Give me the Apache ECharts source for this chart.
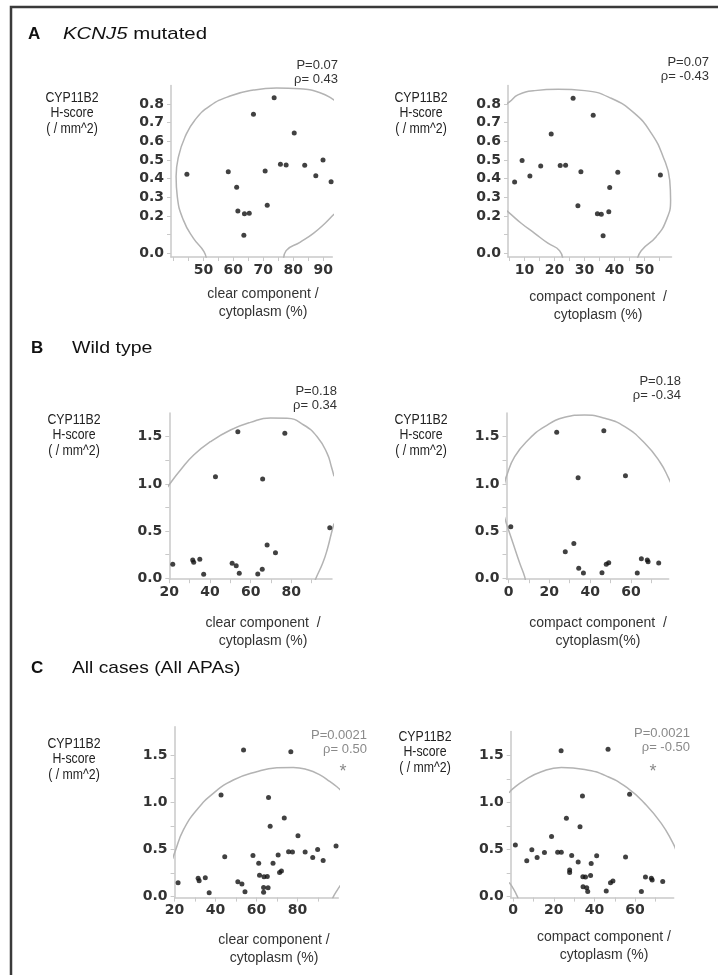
<!DOCTYPE html>
<html><head><meta charset="utf-8">
<script src="https://cdn.jsdelivr.net/npm/echarts@6/dist/echarts.min.js"></script>
<style>html,body{margin:0;padding:0;background:#fff}#c{width:718px;height:975px}</style>
</head><body><div id="c"></div>
<script>
// ---------- DATA ----------
// A: KCNJ5 mutated (n=18)
const aClearX   = [44.5, 58.3, 61.1, 61.5, 63.7, 65.3, 63.5, 66.7, 70.6, 71.3, 73.6, 75.7, 77.6, 80.3, 83.8, 87.5, 89.9, 92.6];
const aClearY   = [0.423, 0.437, 0.354, 0.227, 0.212, 0.214, 0.096, 0.745, 0.441, 0.257, 0.834, 0.477, 0.473, 0.645, 0.472, 0.416, 0.500, 0.384];
const aCompactX = [6.7, 9.2, 11.8, 15.4, 18.9, 21.9, 23.7, 26.2, 28.8, 27.8, 32.9, 34.3, 35.6, 36.2, 38.1, 38.4, 41.1, 55.3];
const aCompactY = [0.382, 0.498, 0.414, 0.468, 0.639, 0.470, 0.472, 0.831, 0.437, 0.255, 0.740, 0.212, 0.209, 0.094, 0.223, 0.352, 0.434, 0.420];
// B: Wild type (n=17)
const bClearX   = [21.7, 31.5, 32.0, 35.0, 36.9, 42.7, 50.9, 52.9, 53.7, 54.4, 63.5, 65.7, 65.9, 68.1, 72.2, 76.8, 98.9];
const bClearY   = [0.148, 0.194, 0.169, 0.201, 0.042, 1.076, 0.159, 0.133, 1.553, 0.053, 0.046, 0.095, 1.052, 0.353, 0.271, 1.536, 0.536];
const bCompactX = [1.1, 23.6, 27.8, 32.0, 34.1, 34.4, 36.7, 45.8, 46.7, 47.9, 49.1, 57.3, 63.1, 65.1, 68.0, 68.4, 73.6];
const bCompactY = [0.547, 1.547, 0.282, 0.367, 1.066, 0.106, 0.056, 0.059, 1.564, 0.148, 0.165, 1.087, 0.056, 0.208, 0.194, 0.176, 0.162];
// C: all cases = A + B
const cClearX   = aClearX.concat(bClearX);
const cClearY   = aClearY.concat(bClearY);
const cCompactX = aCompactX.concat(bCompactX);
const cCompactY = aCompactY.concat(bCompactY);

// density-ellipse arcs, points [x, y]
const aClearArc1   = [[51.1,-0.04],[50.2,0.009],[46.7,0.08],[43.3,0.179],[41.3,0.304],[40.9,0.411],[41.7,0.518],[43.9,0.625],[47.2,0.715],[52.2,0.79],[58.9,0.843],[66.7,0.875],[74.4,0.886],[82.2,0.882],[88.9,0.861],[93.1,0.827],[95,0.80]];
const aClearArc2   = [[76.7,-0.04],[77.6,0.014],[82.2,0.059],[86.7,0.107],[90.6,0.161],[93.3,0.205],[94.5,0.225]];
const aCompactArc1 = [[3.4,0.795],[5.1,0.813],[7.8,0.849],[13.4,0.872],[21.2,0.879],[30.1,0.872],[38.9,0.831],[46.7,0.75],[52.3,0.643],[56.2,0.518],[58.4,0.393],[58.7,0.286],[57.3,0.179],[53.9,0.089],[48.9,0.014],[47.5,-0.04]];
const aCompactArc2 = [[3.4,0.236],[5.1,0.214],[8.9,0.161],[13.4,0.107],[17.8,0.054],[21.7,0.014],[22.8,-0.04]];
const bClearArc1   = [[18,0.93],[20.2,0.999],[25.5,1.147],[32,1.306],[40.2,1.447],[50.1,1.571],[59.9,1.652],[69.7,1.698],[77.9,1.695],[86.1,1.624],[92.7,1.5],[97.6,1.324],[99.7,1.182],[101,1.08]];
const bClearArc2   = [[91.5,-0.04],[92.1,0],[95.4,0.159],[97.6,0.3],[99.7,0.477],[101,0.58]];
const bCompactArc1 = [[-2,1.0],[-1.1,1.077],[3,1.288],[9.6,1.465],[17.7,1.606],[27.5,1.705],[37.3,1.73],[47.2,1.695],[57,1.606],[66.8,1.43],[74.1,1.235],[78.5,1.059],[80,0.98]];
const bCompactArc2 = [[-2,0.65],[-1.1,0.583],[2.2,0.371],[5.5,0.159],[7.9,0.017],[8.3,-0.04]];
const cClearArc1   = [[19,0.4],[20.2,0.477],[24.3,0.707],[30.8,0.918],[38.9,1.095],[48.7,1.236],[60.1,1.324],[70,1.365],[78,1.37],[85,1.345],[91,1.29],[96,1.218],[99.3,1.165],[101,1.13]];
const cClearArc2   = [[97,-0.04],[97.6,0],[99.5,0.07],[101,0.12]];
const cCompactArc1 = [[-2,1.1],[-0.5,1.137],[5.7,1.236],[13.9,1.324],[23.7,1.37],[35.2,1.349],[46.7,1.271],[56.5,1.148],[64.7,0.989],[72.9,0.777],[78.7,0.565],[80,0.5]];
const cCompactArc2 = [[-2,0.15],[-0.5,0.106],[2.1,0],[2.5,-0.04]];

// tick labels
const aYLabels = [0, 0.2, 0.3, 0.4, 0.5, 0.6, 0.7, 0.8];
const aYTicks  = [0, 0.1, 0.2, 0.3, 0.4, 0.5, 0.6, 0.7, 0.8];
const aClearXLabels = [50, 60, 70, 80, 90];
const aClearXTicks  = [40, 45, 50, 55, 60, 65, 70, 75, 80, 85, 90];
const aCompXLabels  = [10, 20, 30, 40, 50];
const aCompXTicks   = [5, 10, 15, 20, 25, 30, 35, 40, 45, 50, 55];
const bcYLabels = [0, 0.5, 1.0, 1.5];
const bcYTicks  = [0, 0.25, 0.5, 0.75, 1.0, 1.25, 1.5];
const clearXLabels = [20, 40, 60, 80];
const clearXTicks  = [20, 30, 40, 50, 60, 70, 80, 90];
const compXLabels  = [0, 20, 40, 60];
const compXTicks   = [0, 10, 20, 30, 40, 50, 60, 70];

// ---------- LAYOUT ----------
const panels = [
  {grid:{left:171, top:85.4, width:161.3, height:171.6}, x:[39.2,93], y:[-0.02,0.9], xl:aClearXLabels, xt:aClearXTicks, yl:aYLabels, yt:aYTicks, pts:[aClearX,aClearY], arcs:[aClearArc1,aClearArc2]},
  {grid:{left:508, top:85.4, width:163.5, height:171.6}, x:[4.5,59], y:[-0.02,0.9], xl:aCompXLabels, xt:aCompXTicks, yl:aYLabels, yt:aYTicks, pts:[aCompactX,aCompactY], arcs:[aCompactArc1,aCompactArc2]},
  {grid:{left:169.3, top:413.1, width:162.7, height:166.1}, x:[20,100], y:[-0.01,1.75], xl:clearXLabels, xt:clearXTicks, yl:bcYLabels, yt:bcYTicks, pts:[bClearX,bClearY], arcs:[bClearArc1,bClearArc2]},
  {grid:{left:506.5, top:413.1, width:162.2, height:166.1}, x:[-1,78.5], y:[-0.01,1.75], xl:compXLabels, xt:compXTicks, yl:bcYLabels, yt:bcYTicks, pts:[bCompactX,bCompactY], arcs:[bCompactArc1,bCompactArc2]},
  {grid:{left:174.6, top:726.8, width:163.7, height:170.8}, x:[20,100], y:[-0.01,1.8], xl:clearXLabels, xt:clearXTicks, yl:bcYLabels, yt:bcYTicks, pts:[cClearX,cClearY], arcs:[cClearArc1,cClearArc2]},
  {grid:{left:510.7, top:731.6, width:163, height:166}, x:[-1.2,79], y:[-0.01,1.75], xl:compXLabels, xt:compXTicks, yl:bcYLabels, yt:bcYTicks, pts:[cCompactX,cCompactY], arcs:[cCompactArc1,cCompactArc2]}
];

const axisColor = '#c9c9c9';
const grids = [], xAxes = [], yAxes = [], series = [];
panels.forEach((p, i) => {
  grids.push(Object.assign({containLabel:false}, p.grid));
  const common = {
    type:'value', gridIndex:i, splitLine:{show:false},
    axisLine:{show:true, onZero:false, lineStyle:{color:axisColor, width:1.5}},
    axisTick:{show:true, length:4, lineStyle:{color:axisColor, width:1}},
  };
  xAxes.push(Object.assign({}, common, {
    min:p.x[0], max:p.x[1],
    axisTick:Object.assign({}, common.axisTick, {customValues:p.xt}),
    axisLabel:{customValues:p.xl, margin:6, color:'#333', fontFamily:'DejaVu Sans', fontWeight:'bold', fontSize:14}
  }));
  yAxes.push(Object.assign({}, common, {
    min:p.y[0], max:p.y[1],
    axisTick:Object.assign({}, common.axisTick, {customValues:p.yt}),
    axisLabel:{customValues:p.yl, margin:7, color:'#333', fontFamily:'DejaVu Sans', fontWeight:'bold', fontSize:14,
      formatter:v => Number(v).toFixed(1)}
  }));
  p.arcs.forEach(arc => series.push({
    type:'line', xAxisIndex:i, yAxisIndex:i, data:arc, smooth:0.5, showSymbol:false, clip:true, silent:true,
    lineStyle:{color:'#b3b3b3', width:1.5}, z:1
  }));
  series.push({
    type:'scatter', xAxisIndex:i, yAxisIndex:i, symbolSize:5, clip:false,
    itemStyle:{color:'#111'}, z:3,
    data:p.pts[0].map((x, k) => [x, p.pts[1][k]])
  });
});

function txt(x, y, text, opt) {
  opt = opt || {};
  const el = {type:'text', silent:true, x:x, y:y, scaleX:opt.sx || 1, style:Object.assign({
    x:0, y:0, text:text, fill:opt.fill || '#222',
    font:opt.font || '14px "Liberation Sans", Arial, sans-serif',
    align:opt.align || 'center', verticalAlign:'middle',
    textAlign:opt.align || 'center', textVerticalAlign:'middle'
  }, opt.rich ? {rich:opt.rich} : {})};
  return el;
}
const hFont = '17px "Liberation Sans", Arial, sans-serif';
const bFont = 'bold 17px "Liberation Sans", Arial, sans-serif';
const gray = '#8a8a8a';
const graphics = [
  {type:'rect', silent:true, shape:{x:11, y:7, width:760, height:1020}, style:{fill:'none', stroke:'#3a3a3a', lineWidth:2.5}},
  txt(28, 34, 'A', {font:bFont, align:'left', fill:'#111'}),
  txt(63, 34, '{i|KCNJ5} mutated', {font:hFont, align:'left', fill:'#111', sx:1.2, rich:{i:{fontStyle:'italic', font:'italic 17px "Liberation Sans", Arial, sans-serif', fill:'#111'}}}),
  txt(31, 348, 'B', {font:bFont, align:'left', fill:'#111'}),
  txt(72, 348, 'Wild type', {font:hFont, align:'left', fill:'#111', sx:1.15}),
  txt(31, 668, 'C', {font:bFont, align:'left', fill:'#111'}),
  txt(72, 668, 'All cases (All APAs)', {font:hFont, align:'left', fill:'#111', sx:1.13}),
];
// y-axis titles
[[72,98],[421,98],[74,420],[421,420],[74,744],[425,737]].forEach(([x,y]) => {
  graphics.push(txt(x, y, 'CYP11B2', {sx:0.88}), txt(x, y+15.5, 'H-score', {sx:0.88}), txt(x, y+31, '( / mm^2)', {sx:0.88}));
});
// x-axis titles
const xt = [
  [263,294,'clear component /','cytoplasm (%)'],
  [598,297,'compact component  /','cytoplasm (%)'],
  [263,623,'clear component  /','cytoplasm (%)'],
  [598,623,'compact component  /','cytoplasm(%)'],
  [274,940,'clear component /','cytoplasm (%)'],
  [604,937,'compact component /','cytoplasm (%)']
];
const xf = '14px "Liberation Sans", Arial, sans-serif';
xt.forEach(([x,y,l1,l2]) => graphics.push(txt(x,y,l1,{fill:'#333',font:xf}), txt(x,y+18,l2,{fill:'#333',font:xf})));
// statistics
const pf = '13px "Liberation Sans", Arial, sans-serif';
const stats = [
  [338,65,'P=0.07','ρ= 0.43','#333'],
  [709,62,'P=0.07','ρ= -0.43','#333'],
  [337,391,'P=0.18','ρ= 0.34','#333'],
  [681,381,'P=0.18','ρ= -0.34','#333'],
  [367,735,'P=0.0021','ρ= 0.50',gray],
  [690,733,'P=0.0021','ρ= -0.50',gray]
];
stats.forEach(([x,y,a,b,c]) => graphics.push(txt(x,y,a,{font:pf,align:'right',fill:c}), txt(x,y+14,b,{font:pf,align:'right',fill:c})));
graphics.push(txt(343,772,'*',{font:'18px "Liberation Sans", Arial, sans-serif', fill:gray}));
graphics.push(txt(653,772,'*',{font:'18px "Liberation Sans", Arial, sans-serif', fill:gray}));

const chart = echarts.init(document.getElementById('c'), null, {renderer:'canvas', width:718, height:975});
chart.setOption({
  animation:false, backgroundColor:'#fff',
  grid:grids, xAxis:xAxes, yAxis:yAxes, series:series, graphic:graphics
});
</script></body></html>
